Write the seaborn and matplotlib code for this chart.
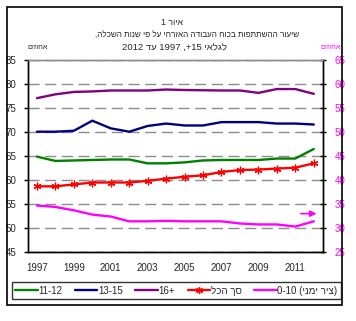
import matplotlib
matplotlib.use("Agg")
import matplotlib.pyplot as plt
import seaborn as sns
import pandas as pd
from matplotlib.patches import Rectangle
from matplotlib.lines import Line2D

years = list(range(1997, 2013))
s_11_12 = [64.9, 64.0, 64.1, 64.2, 64.3, 64.3, 63.5, 63.5, 63.7, 64.1, 64.2, 64.2, 64.2, 64.5, 64.5, 66.5]
s_13_15 = [70.1, 70.1, 70.3, 72.4, 70.8, 70.1, 71.3, 71.8, 71.4, 71.4, 72.1, 72.1, 72.1, 71.8, 71.8, 71.6]
s_16 = [77.1, 77.9, 78.4, 78.5, 78.7, 78.7, 78.7, 78.9, 78.8, 78.75, 78.7, 78.7, 78.2, 79.0, 79.0, 78.0]
s_total = [58.7, 58.7, 59.1, 59.5, 59.5, 59.5, 59.85, 60.3, 60.7, 61.0, 61.7, 62.1, 62.2, 62.4, 62.6, 63.5]
s_0_10 = [34.7, 34.4, 33.7, 32.8, 32.4, 31.4, 31.4, 31.5, 31.4, 31.4, 31.4, 30.95, 30.75, 30.75, 30.3, 31.4]
year_labels = [str(y) for y in range(1997, 2012, 2)]


def heb(s):
    """Hebrew text in left-to-right glyph order for matplotlib."""
    return s[::-1]


lbl_11_12 = "11-12"
lbl_13_15 = "13-15"
lbl_16 = "16+"
lbl_total = heb("סך הכל")
lbl_0_10 = "0-10 (" + heb("ציר ימני") + ")"
title1 = "1 " + heb("איור")
title2 = heb("שיעור ההשתתפות בכוח העבודה האזרחי על פי שנות השכלה,")
title3 = "2012 " + heb("עד") + " 1997 ,+15 " + heb("לגלאי")
unit = heb("אחוזים")

sns.set_style("white")
plt.rcParams["font.family"] = ["Liberation Sans", "DejaVu Sans"]
plt.rcParams["font.size"] = 7

W, H = 356, 321
fig = plt.figure(figsize=(W / 100, H / 100), dpi=100)


def fx(px):
    return px / W


def fy(py):
    return 1 - py / H


ax = fig.add_axes([fx(27.7), fy(252), fx(323) - fx(27.7), fy(60.3) - fy(252)])
ax2 = ax.twinx()

df = pd.DataFrame({"year": years, "11-12": s_11_12, "13-15": s_13_15,
                   "16+": s_16, "total": s_total, "0-10": s_0_10})

green, navy, purple, red, magenta = "#008000", "#000080", "#800080", "#FF0000", "#FF00FF"
lw = 1.7
star = (6, 2, 0)

sns.lineplot(data=df, x="year", y="11-12", ax=ax, color=green, lw=lw)
sns.lineplot(data=df, x="year", y="13-15", ax=ax, color=navy, lw=lw)
sns.lineplot(data=df, x="year", y="16+", ax=ax, color=purple, lw=lw)
sns.lineplot(data=df, x="year", y="total", ax=ax, color=red, lw=lw,
             marker=star, markersize=5.5, markeredgecolor=red, markeredgewidth=0.9)
sns.lineplot(data=df, x="year", y="0-10", ax=ax2, color=magenta, lw=lw)

ax.set_xlim(1996.5, 2012.5)
ax.set_ylim(45, 85)
ax2.set_ylim(25, 65)
ax.set_xlabel("")
ax.set_ylabel("")
ax2.set_ylabel("")

ax.set_yticks(range(45, 90, 5))
ax2.set_yticks(range(25, 70, 5))
ax.yaxis.grid(True, color="#8c8c8c", linestyle=(0, (8, 4)), linewidth=1)
ax.xaxis.grid(False)
ax2.grid(False)

# x axis: tick marks at category boundaries, labels on every other year
ax.set_xticks([1996.5 + 2 * i for i in range(9)])
ax.set_xticklabels([""] * 9)
ax.set_xticks(list(range(1997, 2012, 2)), minor=True)
ax.set_xticklabels(year_labels, minor=True)
ax.tick_params(axis="x", which="major", direction="out", length=4, color="black", width=1)
ax.tick_params(axis="x", which="minor", length=0, pad=8, labelsize=7)
ax.tick_params(axis="y", direction="out", length=3, color="black", width=1, pad=5, labelsize=7)
ax2.tick_params(axis="y", direction="inout", length=5, color="black", width=1, pad=6,
                labelsize=7, labelcolor=magenta)

for a in (ax, ax2):
    for side in ("left", "right", "bottom"):
        a.spines[side].set_color("black")
        a.spines[side].set_linewidth(1)
    a.spines["top"].set_color("#8c8c8c")
    a.spines["top"].set_linewidth(1)

ax2.annotate("", xy=(15.3 + 1997, 33.0), xytext=(14.15 + 1997, 33.0),
             arrowprops=dict(arrowstyle="-|>", color=magenta, lw=1.2, mutation_scale=9))

fig.text(fx(172), fy(22.7), title1, ha="center", va="center", fontsize=6.3)
fig.text(fx(197), fy(35), title2, ha="center", va="center", fontsize=5.9)
fig.text(fx(174), fy(47.7), title3, ha="center", va="center", fontsize=6.8)
fig.text(fx(27), fy(47.7), unit, ha="left", va="center", fontsize=5.2)
fig.text(fx(341), fy(47.7), unit, ha="right", va="center", fontsize=5.2, color=magenta)

handles = [
    Line2D([], [], color=green, lw=lw),
    Line2D([], [], color=navy, lw=lw),
    Line2D([], [], color=purple, lw=lw),
    Line2D([], [], color=red, lw=lw, marker=star, markersize=5, markeredgewidth=1),
    Line2D([], [], color=magenta, lw=lw),
]
labels = [lbl_11_12, lbl_13_15, lbl_16, lbl_total, lbl_0_10]
leg = fig.legend(handles, labels, loc="center left", ncol=5, fontsize=7,
                 bbox_to_anchor=(fx(12), fy(299.5), fx(341) - fx(12), fy(282) - fy(299.5)),
                 mode="expand", frameon=True, fancybox=False, borderpad=0.35,
                 handlelength=2.3, handletextpad=0.1, columnspacing=1.0, borderaxespad=0)
leg.get_frame().set_edgecolor("black")
leg.get_frame().set_linewidth(1)

fig.patches.append(Rectangle((fx(7), fy(305)), fx(342) - fx(7), fy(7) - fy(305),
                             transform=fig.transFigure, fill=False, edgecolor="black",
                             linewidth=1.2))

fig.savefig("out.png", dpi=100)
